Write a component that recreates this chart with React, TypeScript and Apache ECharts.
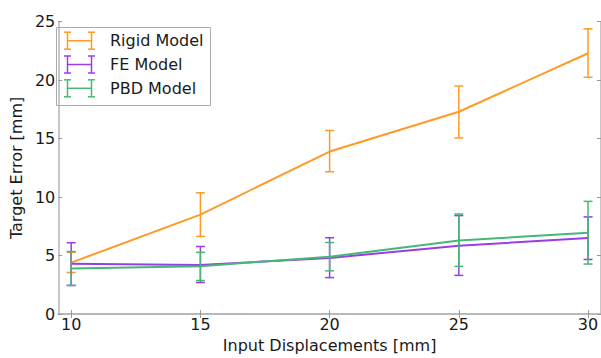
import React, { useEffect, useRef } from "react";
import * as echarts from "echarts";

const categories = [10, 15, 20, 25, 30];
const tickLabels = ["10", "15", "20", "25", "30"];
const seriesNames = ["Rigid Model", "FE Model", "PBD Model"];
const colors = ["#ff9a24", "#9a3ce8", "#45b876"];

const rigidMean = [4.4, 8.5, 13.9, 17.3, 22.3];
const rigidLow = [3.56, 6.64, 12.17, 15.06, 20.25];
const rigidHigh = [5.28, 10.37, 15.7, 19.5, 24.39];

const feMean = [4.3, 4.2, 4.8, 5.85, 6.5];
const feLow = [2.45, 2.7, 3.12, 3.31, 4.67];
const feHigh = [6.1, 5.78, 6.53, 8.42, 8.31];

const pbdMean = [3.9, 4.1, 4.9, 6.3, 6.95];
const pbdLow = [2.45, 2.87, 3.7, 4.08, 4.28];
const pbdHigh = [5.35, 5.28, 6.12, 8.56, 9.64];

const FONT = "DejaVu Sans";
const AXIS_GRAY = "#b4b4b4";
const TEXT = "#1a1a1a";

export default function App() {
  const ref = useRef<HTMLDivElement>(null);
  useEffect(() => {
    document.body.style.margin = "0";
    const chart = echarts.init(ref.current!, null, { renderer: "svg" });
    const means = [rigidMean, feMean, pbdMean];
    const lows = [rigidLow, feLow, pbdLow];
    const highs = [rigidHigh, feHigh, pbdHigh];

    const series: any[] = [];
    seriesNames.forEach((name, s) => {
      const color = colors[s];
      series.push({
        type: "line",
        name,
        xAxisIndex: 0,
        yAxisIndex: 0,
        data: categories.map((c, i) => [c, means[s][i]]),
        showSymbol: false,
        symbol: "none",
        lineStyle: { color, width: 2 },
        z: 2 + s * 2,
      });
      series.push({
        type: "custom",
        name: name + " error",
        xAxisIndex: 0,
        yAxisIndex: 0,
        data: categories.map((c, i) => [c, lows[s][i], highs[s][i]]),
        encode: { x: 0, y: [1, 2] },
        z: 3 + s * 2,
        renderItem: (params: any, api: any) => {
          const x = api.value(0);
          const lo = api.value(1);
          const hi = api.value(2);
          const top = api.coord([x, hi]);
          const bot = api.coord([x, lo]);
          const w = 4.5;
          const st = { stroke: color, lineWidth: 1.5 };
          return {
            type: "group",
            children: [
              { type: "line", shape: { x1: top[0], y1: top[1], x2: bot[0], y2: bot[1] }, style: st },
              { type: "line", shape: { x1: top[0] - w, y1: top[1], x2: top[0] + w, y2: top[1] }, style: st },
              { type: "line", shape: { x1: bot[0] - w, y1: bot[1], x2: bot[0] + w, y2: bot[1] }, style: st },
            ],
          };
        },
      });
    });

    // legend drawn as graphic
    const lx = 56.5, ly = 27.5, lw = 154, lh = 78;
    const legendChildren: any[] = [
      { type: "rect", shape: { x: lx, y: ly, width: lw, height: lh }, style: { fill: "#fff", stroke: "#aaaaaa", lineWidth: 1 } },
    ];
    seriesNames.forEach((name, s) => {
      const cy = 40.7 + s * 23.8;
      const st = { stroke: colors[s], lineWidth: 1.5 };
      const xa = 67.5, xb = 91.5, hh = 8.5, cw = 3.5;
      legendChildren.push(
        { type: "line", shape: { x1: xa, y1: cy, x2: xb, y2: cy }, style: st },
        { type: "line", shape: { x1: xa, y1: cy - hh, x2: xa, y2: cy + hh }, style: st },
        { type: "line", shape: { x1: xb, y1: cy - hh, x2: xb, y2: cy + hh }, style: st },
        { type: "line", shape: { x1: xa - cw, y1: cy - hh, x2: xa + cw, y2: cy - hh }, style: st },
        { type: "line", shape: { x1: xa - cw, y1: cy + hh, x2: xa + cw, y2: cy + hh }, style: st },
        { type: "line", shape: { x1: xb - cw, y1: cy - hh, x2: xb + cw, y2: cy - hh }, style: st },
        { type: "line", shape: { x1: xb - cw, y1: cy + hh, x2: xb + cw, y2: cy + hh }, style: st },
        {
          type: "text",
          x: 110,
          y: cy,
          style: { text: name, fill: TEXT, font: `16px "${FONT}"`, textVerticalAlign: "middle", textAlign: "left" },
        }
      );
    });

    const axisCommon = {
      axisLine: { show: true, lineStyle: { color: AXIS_GRAY, width: 1.5 } },
      splitLine: { show: false },
    };

    chart.setOption({
      animation: false,
      backgroundColor: "#fff",
      grid: { left: 49, top: 21.7, width: 554.7, height: 300, containLabel: false },
      xAxis: [
        {
          ...axisCommon,
          type: "value",
          position: "bottom",
          min: 9.5,
          max: 30.5,
          axisTick: { show: true, inside: true, length: 4, customValues: categories, lineStyle: { color: "#999" } },
          axisLabel: {
            show: true,
            customValues: categories,
            formatter: (v: number) => tickLabels[categories.indexOf(v)] ?? String(v),
            fontSize: 16,
            fontFamily: FONT,
            color: TEXT,
            margin: 2,
          },
          name: "Input Displacements [mm]",
          nameLocation: "middle",
          nameGap: 19.5,
          nameTextStyle: { fontSize: 16, fontFamily: FONT, color: TEXT },
        },
        {
          ...axisCommon,
          type: "value",
          position: "top",
          min: 9.5,
          max: 30.5,
          axisTick: { show: true, inside: true, length: 4, customValues: categories, lineStyle: { color: "#999" } },
          axisLabel: { show: false },
        },
      ],
      yAxis: [
        {
          ...axisCommon,
          type: "value",
          position: "left",
          min: 0,
          max: 25,
          interval: 5,
          axisTick: { show: true, inside: true, length: 4, lineStyle: { color: "#999" } },
          axisLabel: { fontSize: 16, fontFamily: FONT, color: TEXT, margin: 3 },
          name: "Target Error [mm]",
          nameLocation: "middle",
          nameGap: 26,
          nameTextStyle: { fontSize: 16, fontFamily: FONT, color: TEXT },
        },
        {
          ...axisCommon,
          type: "value",
          position: "right",
          min: 0,
          max: 25,
          interval: 5,
          axisTick: { show: true, inside: true, length: 4, lineStyle: { color: "#999" } },
          axisLabel: { show: false },
        },
      ],
      series,
      graphic: [{ type: "group", children: legendChildren, z: 100 }],
    });
    return () => chart.dispose();
  }, []);
  return <div ref={ref} style={{ width: 601, height: 358 }} />;
}
